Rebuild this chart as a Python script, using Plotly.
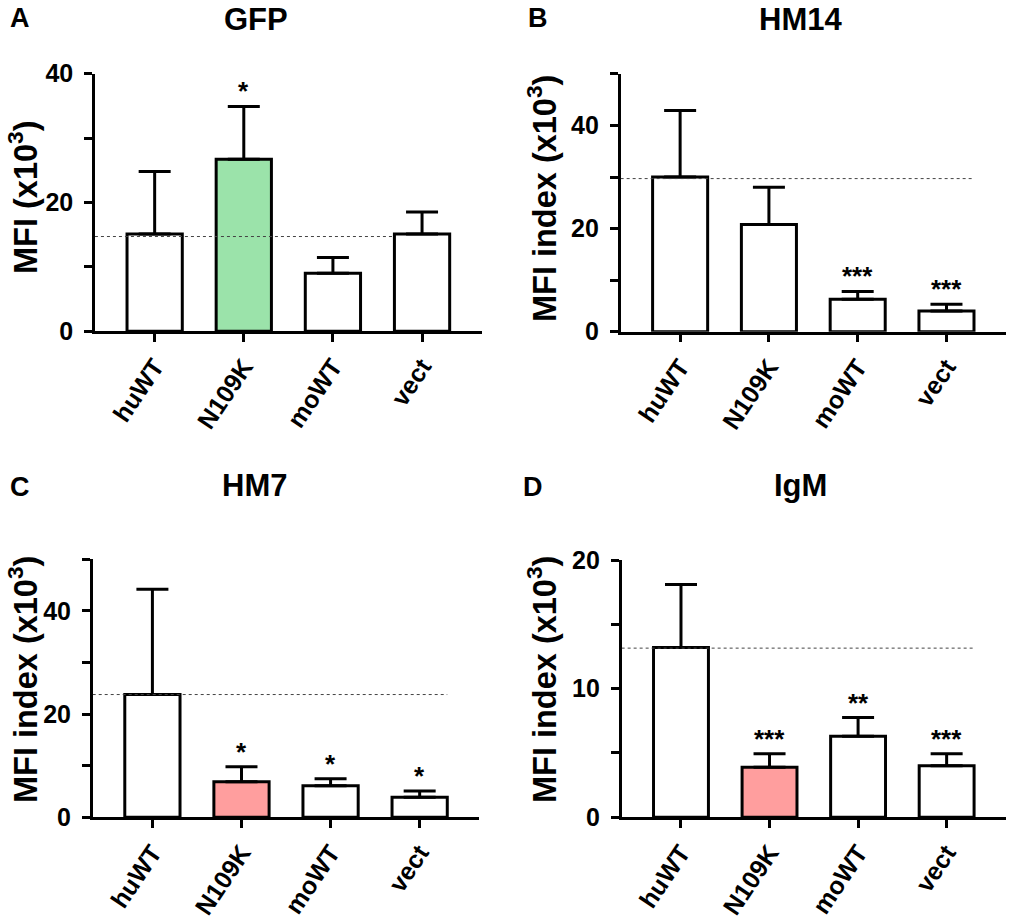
import plotly.graph_objects as go

# ---------------- data ----------------
categories = ["huWT", "N109K", "moWT", "vect"]

gfp_mean = [15.1, 26.7, 9.0, 15.1]
gfp_err = [9.7, 8.2, 2.45, 3.4]
gfp_ref = 14.7
gfp_stars = ["", "*", "", ""]

hm14_mean = [30.0, 20.8, 6.3, 4.0]
hm14_err = [12.9, 7.2, 1.5, 1.3]
hm14_ref = 29.7
hm14_stars = ["", "", "***", "***"]

hm7_mean = [23.8, 6.9, 6.1, 3.9]
hm7_err = [20.4, 2.9, 1.4, 1.2]
hm7_ref = 23.8
hm7_stars = ["", "*", "*", "*"]

igm_mean = [13.2, 3.9, 6.3, 4.0]
igm_err = [4.9, 1.05, 1.45, 0.95]
igm_ref = 13.15
igm_stars = ["", "***", "**", "***"]

panel_letters = ["A", "B", "C", "D"]
panel_titles = ["GFP", "HM14", "HM7", "IgM"]
y_titles = ["MFI (x10<sup>3</sup>)", "MFI index (x10<sup>3</sup>)",
            "MFI index (x10<sup>3</sup>)", "MFI index (x10<sup>3</sup>)"]
y_max = [40, 50, 50, 20]
y_major_step = [20, 20, 20, 10]
y_minor_step = [10, 10, 10, 5]

WHITE = "#FFFFFF"
GREEN = "#9BE3AA"
PINK = "#FF9E9E"
gfp_colors = [WHITE, GREEN, WHITE, WHITE]
hm14_colors = [WHITE, WHITE, WHITE, WHITE]
hm7_colors = [WHITE, PINK, WHITE, WHITE]
igm_colors = [WHITE, PINK, WHITE, WHITE]

panels = [
    (gfp_mean, gfp_err, gfp_ref, gfp_stars, gfp_colors),
    (hm14_mean, hm14_err, hm14_ref, hm14_stars, hm14_colors),
    (hm7_mean, hm7_err, hm7_ref, hm7_stars, hm7_colors),
    (igm_mean, igm_err, igm_ref, igm_stars, igm_colors),
]

# ---------------- layout geometry ----------------
W, H = 1010, 920
FONT = "Liberation Sans, Arial, Helvetica, sans-serif"
x_domains = [[0.094, 0.477], [0.6145, 0.996], [0.0918, 0.4746], [0.6155, 0.996]]
y_domains = [[0.640, 0.920], [0.6395, 0.9196], [0.1116, 0.392], [0.1116, 0.3913]]
ref_x_end = [2.69, 3.31, 3.31, 3.31]
# (x px, y px, anchor)
letter_pos = [(20, 1, "top"), (538, 1, "top"), (20, 487, "middle"), (533, 487, "middle")]
title_pos = [(256, 0, "top"), (800, 0, "top"), (254, 486, "middle"), (800, 486, "middle")]
ytitle_pos = [(0, 197, "left"), (519, 199, "left"), (0, 680, "left"), (519, 680, "left")]

fig = go.Figure()
annotations = []
shapes = []

for i, (mean, err, ref, stars, colors) in enumerate(panels):
    n = "" if i == 0 else str(i + 1)
    xa, ya = "x" + n, "y" + n
    fig.add_trace(go.Bar(
        x=categories, y=mean, xaxis=xa, yaxis=ya,
        marker=dict(color=colors, line=dict(color="black", width=3)),
        width=0.62,
        error_y=dict(type="data", array=err, arrayminus=[0] * len(err),
                     symmetric=False, color="black", thickness=3, width=16),
        showlegend=False, hoverinfo="skip",
    ))
    xkey = "xaxis" + n
    ykey = "yaxis" + n
    fig.update_layout({
        xkey: dict(domain=x_domains[i], anchor=ya, range=[-0.67, 3.67],
                   automargin=False,
                   showline=True, linecolor="black", linewidth=2.5,
                   ticks="outside", ticklen=8, tickwidth=2.5, tickcolor="black",
                   tickangle=-56, showgrid=False, zeroline=False,
                   tickfont=dict(family=FONT, size=25, color="black", weight="bold"),
                   categoryorder="array", categoryarray=categories, fixedrange=True),
        ykey: dict(domain=y_domains[i], anchor=xa, range=[0, y_max[i]],
                   automargin=False,
                   showline=True, linecolor="black", linewidth=2.5,
                   ticks="outside", ticklen=8, tickwidth=2.5, tickcolor="black",
                   tick0=0, dtick=y_major_step[i],
                   minor=dict(tick0=0, dtick=y_minor_step[i], ticks="outside",
                              ticklen=8, tickwidth=2.5, tickcolor="black",
                              showgrid=False),
                   ticklabelstandoff=6,
                   showgrid=False, zeroline=False,
                   tickfont=dict(family=FONT, size=25, color="black", weight="bold"),
                   fixedrange=True),
    })
    shapes.append(dict(type="line", xref=xa, yref=ya, x0=-0.67, x1=ref_x_end[i],
                       y0=ref, y1=ref, layer="above",
                       line=dict(color="#444444", width=1, dash="dot")))
    for c, m, e, s in zip(categories, mean, err, stars):
        if s:
            annotations.append(dict(x=c, y=m + e, xref=xa, yref=ya, text="<b>" + s + "</b>",
                                    showarrow=False, yanchor="bottom", xanchor="center",
                                    yshift=-2,
                                    font=dict(family=FONT, size=26, color="black")))
    lx, ly, lanc = letter_pos[i]
    annotations.append(dict(x=lx / W, y=1 - ly / H, xref="paper", yref="paper",
                            text="<b>" + panel_letters[i] + "</b>", showarrow=False,
                            xanchor="center", yanchor=lanc,
                            font=dict(family=FONT, size=27, color="black")))
    tx, ty, tanc = title_pos[i]
    annotations.append(dict(x=tx / W, y=1 - ty / H, xref="paper", yref="paper",
                            text="<b>" + panel_titles[i] + "</b>", showarrow=False,
                            xanchor="center", yanchor=tanc,
                            font=dict(family=FONT, size=31, color="black")))
    yx, yy, yanc = ytitle_pos[i]
    annotations.append(dict(x=yx / W, y=1 - yy / H, xref="paper", yref="paper",
                            text="<b>" + y_titles[i] + "</b>", showarrow=False,
                            textangle=-90, xanchor=yanc, yanchor="middle",
                            font=dict(family=FONT, size=32.5, color="black")))

fig.update_layout(
    width=W, height=H, margin=dict(l=0, r=0, t=0, b=0),
    paper_bgcolor="white", plot_bgcolor="white",
    annotations=annotations, shapes=shapes, bargap=0.38,
    font=dict(family=FONT, color="black"),
)

fig.write_html("out.html", config={"displayModeBar": False},
               post_script="document.body.style.margin='0';")
